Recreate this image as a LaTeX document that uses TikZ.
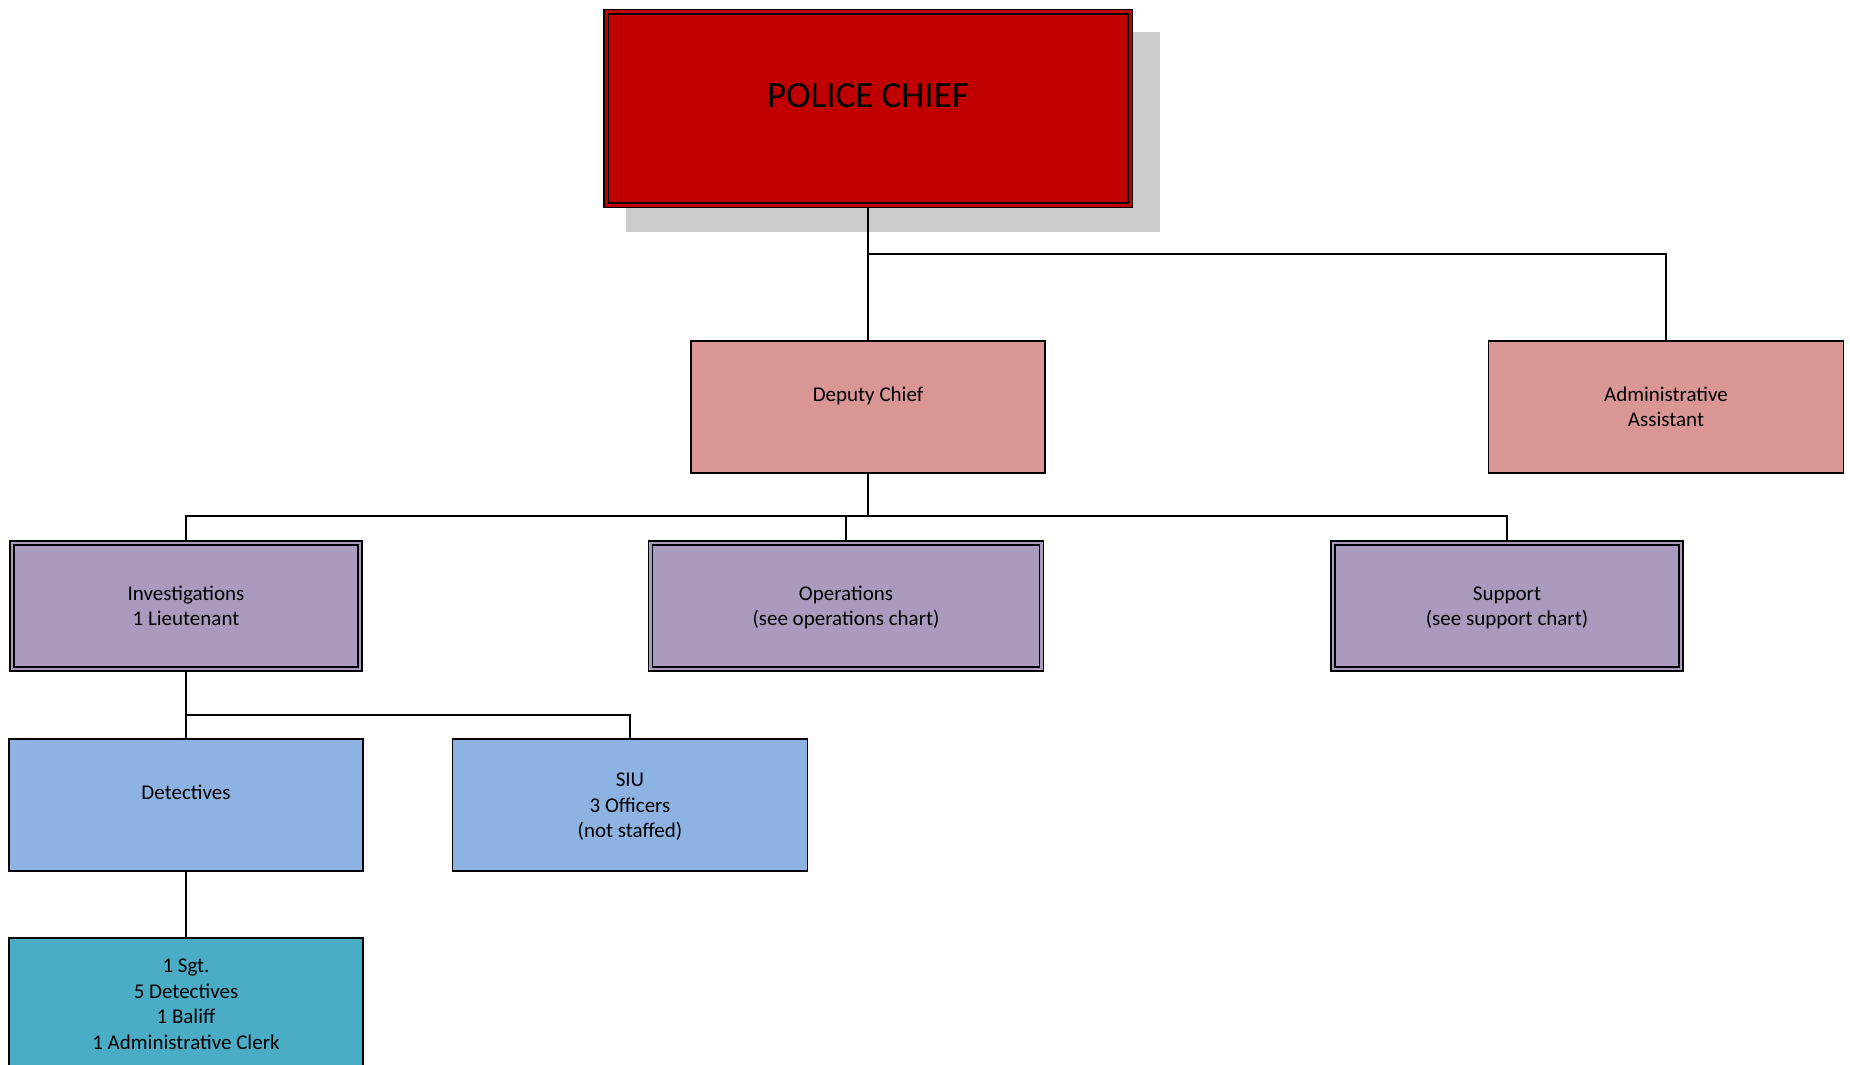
\documentclass[tikz,border=0pt]{standalone}
\usepackage{fontspec}
\setmainfont{Carlito}
\usetikzlibrary{backgrounds}
\definecolor{chiefred}{HTML}{C00000}
\definecolor{rose}{HTML}{D99694}
\definecolor{lilac}{RGB}{170,154,189}
\definecolor{skyblue}{HTML}{8DB3E2}
\definecolor{teal}{HTML}{4BACC6}
\definecolor{shadowgray}{HTML}{CCCCCC}
% line strut: one full line of height, sitting a little low
\newcommand\lnstrut{\rule[-5.7pt]{0pt}{25.6pt}}
\begin{document}
\begin{tikzpicture}[x=1pt,y=-1pt,
  orgbox/.style={draw=black, line width=1.6pt, inner sep=0pt, align=center,
    minimum width=354pt, minimum height=132pt,
    font=\fontsize{21}{25.6}\selectfont},
  framed/.style={orgbox, line width=1.5pt, double distance=2.6pt,
    minimum width=348pt, minimum height=126pt},
  link/.style={draw=black, line width=1.6pt}
]
\useasboundingbox (0,0) rectangle (1850,1065);
\clip (0,0) rectangle (1850,1065);

% top level
\node[orgbox, line width=1.6pt, double=chiefred, double distance=3pt, fill=chiefred,
  minimum width=524pt, minimum height=193pt] (chief) at (868,108.5) {};
\node[font=\fontsize{37}{45}\selectfont] (chieftitle) at (868,96) {POLICE CHIEF};

% second level
\node[orgbox, fill=rose] (deputy) at (868,407) {\lnstrut Deputy Chief\\\lnstrut};
\node[orgbox, fill=rose, minimum width=355pt] (admin) at (1666,407)
  {\lnstrut Administrative\\\lnstrut Assistant};

% divisions
\node[framed, double=lilac, fill=lilac] (inv) at (186,606)
  {\lnstrut Investigations\\\lnstrut 1 Lieutenant};
\node[framed, double=lilac, fill=lilac, minimum width=391pt] (ops) at (846,606)
  {\lnstrut Operations\\\lnstrut (see operations chart)};
\node[framed, double=lilac, fill=lilac] (support) at (1507,606)
  {\lnstrut Support\\\lnstrut (see support chart)};

% units under investigations
\node[orgbox, fill=skyblue] (det) at (186,805) {\lnstrut Detectives\\\lnstrut};
\node[orgbox, fill=skyblue, minimum width=355pt] (siu) at (630,805)
  {\lnstrut SIU\\\lnstrut 3 Officers\\\lnstrut (not staffed)};
\node[orgbox, fill=teal] (staff) at (186,1004)
  {\lnstrut 1 Sgt.\\\lnstrut 5 Detectives\\\lnstrut 1 Baliff\\\lnstrut 1 Administrative Clerk};

% junction points of the connector buses
\coordinate (topbus) at (868,254);
\coordinate (divbus) at (868,516);
\coordinate (invbus) at (186,715);

\begin{scope}[on background layer]
  \fill[shadowgray] (626,32) rectangle (1160,232);
  \draw[link] (chief.south) -- (deputy.north);
  \draw[link] (topbus) -| (admin.north);
  \draw[link] (deputy.south) -- (divbus);
  \draw[link] (divbus) -| (inv.north);
  \draw[link] (divbus) -| (support.north);
  \draw[link] (ops.north) -- (ops.north |- divbus);
  \draw[link] (inv.south) -- (det.north);
  \draw[link] (invbus) -| (siu.north);
  \draw[link] (det.south) -- (staff.north);
\end{scope}
\end{tikzpicture}
\end{document}
